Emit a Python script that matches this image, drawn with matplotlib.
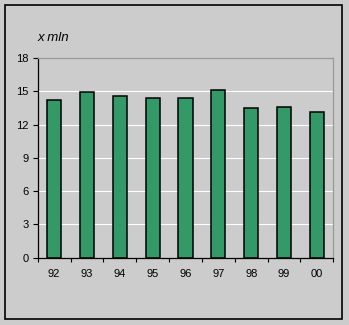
import numpy as np
import matplotlib
matplotlib.use("Agg")
import matplotlib.pyplot as plt
from matplotlib.patches import Rectangle

plt.rcParams['font.family'] = ['Liberation Sans', 'DejaVu Sans']

years = ['92', '93', '94', '95', '96', '97', '98', '99', '00']
values = [14.2, 14.9, 14.55, 14.35, 14.35, 15.15, 13.45, 13.55, 13.1]

BG = '#cccccc'
fig = plt.figure(figsize=(3.49, 3.25), dpi=100, facecolor=BG)
fig.patches.append(Rectangle((5 / 349, 1 - 319 / 325), 337 / 349, 314 / 325,
                             transform=fig.transFigure, fill=False,
                             edgecolor='black', lw=1.2))
ax = fig.add_axes([37.7 / 349, 1 - 257.7 / 325, 295.6 / 349, 199.7 / 325])
ax.set_facecolor(BG)

x = np.arange(len(years))
ax.bar(x, values, width=0.43, color='#339966', edgecolor='black', lw=1.1, zorder=3)

ax.set_ylim(0, 18)
ax.set_yticks(range(0, 19, 3))
ax.set_xlim(-0.5, len(years) - 0.5)
ax.set_xticks(x)
ax.set_xticklabels(years)
ax.set_xticks(np.arange(-0.5, len(years)), minor=True)
ax.tick_params(axis='x', which='major', length=0, pad=8, labelsize=8)
ax.tick_params(axis='x', which='minor', length=3, width=0.8, direction='out')
ax.tick_params(axis='y', length=3.5, width=0.8, pad=3, labelsize=8)
for v in range(3, 18, 3):
    ax.axhline(v, color='white', lw=0.8, zorder=1)

ax.spines['left'].set_color('black')
ax.spines['bottom'].set_color('black')
ax.spines['top'].set_color('#999999')
ax.spines['right'].set_color('#999999')
for s in ax.spines.values():
    s.set_linewidth(0.9)

fig.text(38 / 349, 1 - 38 / 325, 'x mln', fontsize=9.5, style='italic', va='center')

fig.savefig('out.png', dpi=100, facecolor=BG)
